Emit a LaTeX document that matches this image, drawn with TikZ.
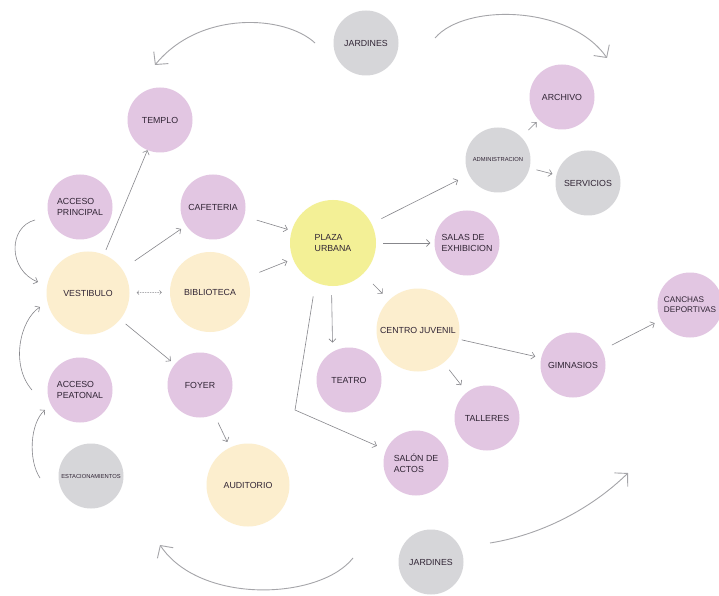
\documentclass[tikz,border=0pt]{standalone}
\usepackage{fontspec}
\setmainfont{Liberation Sans}
\usetikzlibrary{arrows.meta}
\definecolor{pinkc}{RGB}{226,198,226}
\definecolor{grayc}{RGB}{214,214,217}
\definecolor{creamc}{RGB}{252,238,206}
\definecolor{yelc}{RGB}{243,240,150}
\definecolor{linec}{RGB}{135,135,140}
\definecolor{txtc}{RGB}{48,36,52}
\begin{document}
\begin{tikzpicture}[x=1pt,y=1pt,
  bub/.style={circle,inner sep=0pt,align=left,font=\fontsize{8.8}{10.5}\selectfont,text=txtc},
  pinkb/.style={bub,fill=pinkc,minimum size=65pt},
  grayb/.style={bub,fill=grayc,minimum size=65pt},
  creamb/.style={bub,fill=creamc,minimum size=83pt},
  yelb/.style={bub,fill=yelc,minimum size=86pt},
  tinytxt/.style={font=\fontsize{5.8}{7}\selectfont},
  arr/.style={draw=linec,line width=0.6pt,-{Straight Barb[length=3.5pt,width=7pt]}},
  dbl/.style={draw=linec,line width=0.5pt,dash pattern=on 1.5pt off 1pt,{Straight Barb[length=2pt,width=4pt]}-{Straight Barb[length=2pt,width=4pt]}},
  bigarr/.style={draw=linec!75,line width=0.9pt,-{Straight Barb[length=9pt,width=19pt]}},
  curarr/.style={draw=linec,line width=0.6pt,-{Straight Barb[length=3.5pt,width=7pt]}},
]
\useasboundingbox (0,0) rectangle (719,595);
\fill[white] (0,0) rectangle (719,595);

% nodes
\node[grayb]  (jt)      at (366,552) {JARDINES};
\node[pinkb]  (templo)  at (160,475) {TEMPLO};
\node[pinkb]  (accp)    at (80,388)  {ACCESO\\PRINCIPAL};
\node[pinkb]  (cafe)    at (213,388) {CAFETERIA};
\node[creamb] (vest)    at (88,302)  {VESTIBULO};
\node[creamb,minimum size=80pt] (bibl) at (210,303) {BIBLIOTECA};
\node[yelb]   (plaza)   at (333,352) {PLAZA\\URBANA};
\node[grayb,tinytxt] (admin) at (498,435) {ADMINISTRACION};
\node[pinkb]  (archivo) at (562,498) {ARCHIVO};
\node[grayb]  (serv)    at (588,412) {SERVICIOS};
\node[pinkb]  (salas)   at (467,352) {SALAS DE\\EXHIBICION};
\node[creamb] (cj)      at (418,265) {CENTRO JUVENIL};
\node[pinkb,font=\fontsize{8.2}{10}\selectfont] (canchas) at (690,290) {CANCHAS\\DEPORTIVAS};
\node[pinkb]  (gim)     at (573,230) {GIMNASIOS};
\node[pinkb]  (teatro)  at (349,215) {TEATRO};
\node[pinkb]  (talleres) at (487,177) {TALLERES};
\node[pinkb]  (accpeat) at (80,205)  {ACCESO\\PEATONAL};
\node[pinkb]  (foyer)   at (200,210) {FOYER};
\node[grayb,tinytxt] (estac) at (91,119) {ESTACIONAMIENTOS};
\node[creamb] (audit)   at (248,110) {AUDITORIO};
\node[pinkb]  (salon)   at (416,132) {SALÓN DE\\ACTOS};
\node[grayb]  (jb)      at (431,33)  {JARDINES};

% straight connectors
\draw[arr,shorten <=5pt] (vest) -- (templo);
\draw[arr,shorten <=15pt,shorten >=6pt] (vest) -- (cafe);
\draw[dbl,shorten <=7pt,shorten >=8pt] (vest) -- (bibl);
\draw[arr,shorten <=7pt,shorten >=5pt] (vest) -- (foyer);
\draw[arr,shorten <=13pt,shorten >=4pt] (cafe) -- (plaza);
\draw[arr,shorten <=13pt,shorten >=6pt] (bibl) -- (plaza);
\draw[arr,shorten <=11pt,shorten >=12pt] (plaza) -- (admin);
\draw[arr,shorten <=7pt,shorten >=4pt] (plaza) -- (salas);
\draw[arr,shorten <=14pt,shorten >=9pt] (plaza) -- (cj);
\draw[arr,shorten <=9pt,shorten >=9pt] (plaza.268) -- (teatro.120);
\coordinate (bend) at (295,185);
\draw[arr,shorten <=14pt,shorten >=10pt] (plaza.246) -- (bend) -- (salon);
\draw[arr,shorten <=10pt,shorten >=3pt] (admin) -- (archivo);
\draw[arr,shorten <=7pt,shorten >=4pt] (admin) -- (serv);
\draw[arr,shorten <=3pt,shorten >=6pt] (cj) -- (gim);
\draw[arr,shorten <=9pt,shorten >=9pt] (cj) -- (talleres);
\draw[arr,shorten <=11pt,shorten >=7pt] (gim) -- (canchas);
\draw[arr,shorten <=9pt,shorten >=6pt] (foyer) -- (audit);

% curved connectors (free ends)
\coordinate (t1s) at (315,552); \coordinate (t1e) at (155,530);
\draw[bigarr] (t1s) .. controls (285,580) and (200,585) .. (t1e);
\coordinate (t2s) at (435,557); \coordinate (t2e) at (607,537);
\draw[bigarr] (t2s) .. controls (465,592) and (570,590) .. (t2e);
\coordinate (b1s) at (353,37); \coordinate (b1e) at (160,50);
\draw[bigarr] (b1s) .. controls (320,-5) and (200,-10) .. (b1e);
\coordinate (b2s) at (490,52); \coordinate (b2e) at (628,122);
\draw[bigarr] (b2s) .. controls (540,60) and (590,85) .. (b2e);

\coordinate (e1s) at (40,117); \coordinate (e1e) at (45,185);
\draw[curarr] (e1s) .. controls (28,135) and (30,172) .. (e1e);
\coordinate (p1s) at (32,205); \coordinate (p1e) at (40,288);
\draw[curarr] (p1s) .. controls (10,230) and (20,275) .. (p1e);
\coordinate (a1s) at (35,375); \coordinate (a1e) at (38,313);
\draw[curarr] (a1s) .. controls (8,368) and (8,325) .. (a1e);
\end{tikzpicture}
\end{document}
